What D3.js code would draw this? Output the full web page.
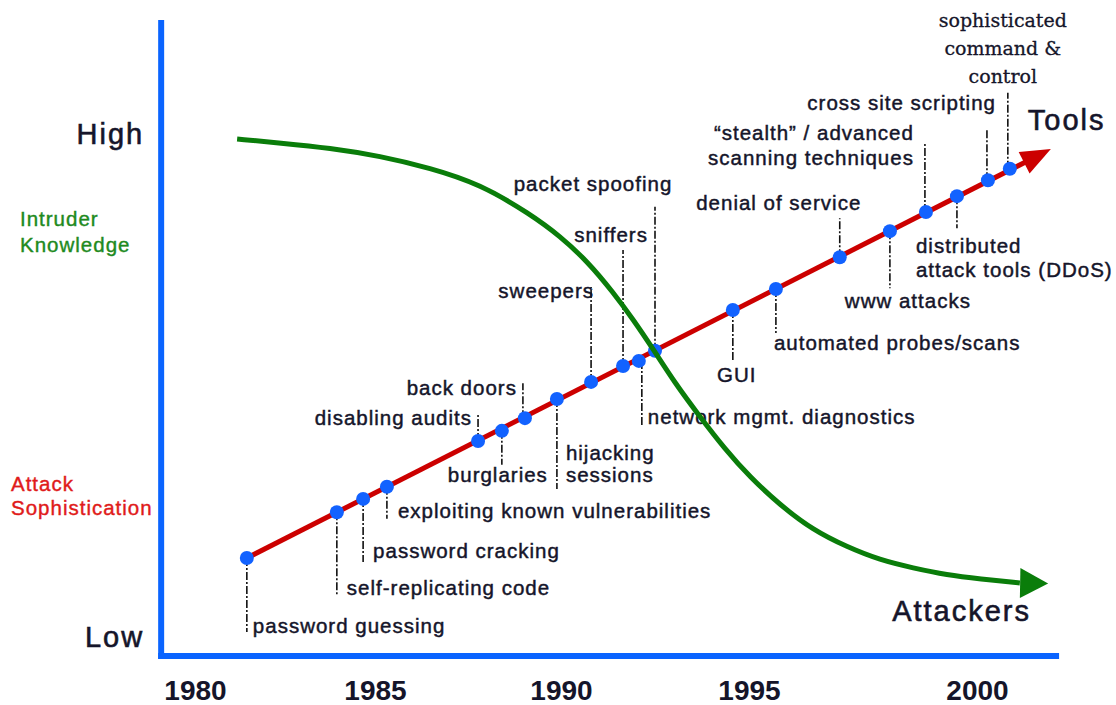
<!DOCTYPE html>
<html>
<head>
<meta charset="utf-8">
<script src="https://cdn.jsdelivr.net/npm/d3@7/dist/d3.min.js"></script>
<style>
  html, body { margin: 0; padding: 0; background: #fff; }
  svg { display: block; }
  text { font-family: "Liberation Sans", Arial, sans-serif; }
</style>
</head>
<body>
<svg id="chart" width="1116" height="705"></svg>
<script>
// ---------------- DATA ----------------
const tickYears = [1980, 1985, 1990, 1995, 2000];
const levelTickValues = [3, 82];
const levelTickLabels = ["Low", "High"];

// Attack sophistication (tools) timeline
const toolNames = [
  ["password guessing"],
  ["self-replicating code"],
  ["password cracking"],
  ["exploiting known vulnerabilities"],
  ["disabling audits"],
  ["burglaries"],
  ["back doors"],
  ["hijacking", "sessions"],
  ["sweepers"],
  ["sniffers"],
  ["network mgmt. diagnostics"],
  ["packet spoofing"],
  ["GUI"],
  ["automated probes/scans"],
  ["denial of service"],
  ["www attacks"],
  ["\u201cstealth\u201d / advanced", "scanning techniques"],
  ["distributed", "attack tools (DDoS)"],
  ["cross site scripting"],
  ["sophisticated", "command &", "control"]
];
const toolYears = [1981.44, 1983.94, 1984.67, 1985.32, 1987.77, 1988.41, 1989.03, 1989.89,
                   1990.80, 1991.65, 1992.07, 1992.50, 1994.57, 1995.59, 1996.99, 1998.09,
                   1998.88, 1999.56, 2000.24, 2000.72];
const toolLevels = [15.4, 22.6, 24.7, 26.6, 33.8, 35.4, 37.4, 40.4,
                    43.1, 45.6, 46.4, 48.0, 54.4, 57.7, 62.7, 66.8,
                    69.8, 72.3, 74.8, 76.6];
const toolsTip = { year: 2001.62, level: 79.7 };

// Intruder knowledge curve
const knowledgeYears = [1981.17, 1982.36, 1983.75, 1985.13, 1986.48, 1987.82, 1989.17, 1989.97,
                        1990.72, 1991.38, 1991.91, 1992.45, 1993.03, 1993.70, 1994.36, 1995.02,
                        1995.68, 1996.40, 1997.15, 1997.87, 1998.60, 1999.34, 2000.07, 2000.94];
const knowledgeLevels = [81.29, 80.66, 79.87, 78.62, 76.73, 74.21, 69.50, 66.04,
                         61.95, 57.23, 52.99, 48.27, 42.92, 37.58, 32.55, 28.14,
                         23.74, 19.81, 17.14, 15.09, 13.84, 12.74, 12.11, 11.48];
const knowledgeTip = { year: 2001.56, level: 11.4 };

const axisYearMin = 1979.06, axisYearMax = 2001.8;

// ---------------- LAYOUT (label placement, px offsets from each dot) ----------------
// lead: leader end dy; lx: leader x offset; tx, ty: text offset; a: anchor; lh: line height
const labelLayout = [
  { lead: 74,   tx: 6,   ty: 75,   a: "start" },
  { lead: 83,   tx: 10,  ty: 83,   a: "start" },
  { lead: 63,   tx: 10,  ty: 59,   a: "start" },
  { lead: 32,   tx: 11,  ty: 31,   a: "start" },
  { lead: -27,  tx: -6,  ty: -16,  a: "end" },
  { lead: 34,   tx: -4,  ty: 51,   a: "middle" },
  { lead: -35,  lx: -2, tx: -8, ty: -23, a: "end" },
  { lead: 90,   tx: 9,   ty: 61,   a: "start", lh: 22 },
  { lead: -95,  tx: 3,   ty: -84,  a: "end" },
  { lead: -116, tx: -12, ty: -124, a: "middle" },
  { lead: 64,   lx: 3, tx: 9, ty: 63, a: "start" },
  { lead: -144, tx: -62, ty: -160, a: "middle" },
  { lead: 50,   tx: 4,   ty: 72,   a: "middle" },
  { lead: 44,   tx: -2,  ty: 61,   a: "start" },
  { lead: -39,  tx: -61, ty: -47,  a: "middle" },
  { lead: 57,   tx: 18,  ty: 77,   a: "middle" },
  { lead: -69,  lx: -1, tx: -12, ty: -72, a: "end", lh: 25 },
  { lead: 32,   tx: -41, ty: 57,   a: "start", lh: 24 },
  { lead: -52,  lx: -1, tx: 8, ty: -70, a: "end" },
  { lead: -76,  lx: -2, tx: -7, ty: -142, a: "middle", lh: 28, serif: true }
];

// ---------------- DRAW ----------------
const svg = d3.select("#chart");

const x = d3.scaleLinear().domain(tickYears).range([195, 375, 561, 749, 977]);
const y = d3.scaleLinear().domain([0, 100]).range([656, 20]);

const BLUE = "#0a64ff", RED = "#cc0000", GREEN = "#0a7d0a", DOT = "#1262ff", INK = "#15152a";

function thicken(sel, color, w) {
  sel.attr("stroke", color).attr("stroke-width", w).attr("paint-order", "stroke");
}

// axes
svg.append("line")
  .attr("x1", x(axisYearMin)).attr("x2", x(axisYearMin))
  .attr("y1", y(100)).attr("y2", y(0) + 3)
  .attr("stroke", BLUE).attr("stroke-width", 6);
svg.append("line")
  .attr("x1", x(axisYearMin) - 3).attr("x2", x(axisYearMax))
  .attr("y1", y(0)).attr("y2", y(0))
  .attr("stroke", BLUE).attr("stroke-width", 6);

const xAxis = svg.append("g")
  .attr("transform", `translate(0,${y(0)})`)
  .call(d3.axisBottom(x).tickValues(tickYears).tickFormat(d3.format("d")).tickSize(0));
xAxis.select(".domain").remove();
xAxis.selectAll("text")
  .attr("y", 44).attr("dy", 0)
  .attr("fill", INK)
  .style("font-family", "'Liberation Sans', Arial, sans-serif")
  .style("font-size", "28px").style("font-weight", "bold");

const yAxis = svg.append("g")
  .attr("transform", `translate(${x(axisYearMin)},0)`)
  .call(d3.axisLeft(y).tickValues(levelTickValues)
        .tickFormat((d, i) => levelTickLabels[i]).tickSize(0).tickPadding(17));
yAxis.select(".domain").remove();
yAxis.selectAll("text")
  .attr("fill", INK)
  .style("font-family", "'Liberation Sans', Arial, sans-serif")
  .style("font-size", "29px").style("letter-spacing", "2px")
  .call(thicken, INK, 0.6);

// series titles
const titleG = svg.append("g").style("font-size", "20.5px").style("letter-spacing", "1px");
titleG.append("text").attr("x", 20).attr("y", 226).attr("fill", "#1e8a1e").text("Intruder").call(thicken, "#1e8a1e", 0.4);
titleG.append("text").attr("x", 20).attr("y", 252).attr("fill", "#1e8a1e").text("Knowledge").call(thicken, "#1e8a1e", 0.4);
titleG.append("text").attr("x", 11).attr("y", 491).attr("fill", "#e01a1a").text("Attack").call(thicken, "#e01a1a", 0.4);
titleG.append("text").attr("x", 11).attr("y", 515).attr("fill", "#e01a1a").text("Sophistication").call(thicken, "#e01a1a", 0.4);

// tools data
const tools = toolNames.map((n, i) => ({ lines: n, year: toolYears[i], level: toolLevels[i], lay: labelLayout[i] }));

// leaders
const leaders = svg.append("g");
tools.forEach(t => {
  const px = x(t.year) + (t.lay.lx || 0), py = y(t.level);
  leaders.append("line")
    .attr("x1", px).attr("x2", px)
    .attr("y1", py).attr("y2", py + t.lay.lead)
    .attr("stroke", "#111").attr("stroke-width", 1.6)
    .attr("stroke-dasharray", "8,2,2,2");
});

// labels
const labels = svg.append("g");
tools.forEach(t => {
  const px = x(t.year), py = y(t.level), L = t.lay;
  const txt = labels.append("text")
    .attr("x", px + L.tx).attr("y", py + L.ty)
    .attr("text-anchor", L.a)
    .attr("fill", INK);
  if (L.serif) {
    txt.style("font-family", "'DejaVu Serif', 'Liberation Serif', serif")
       .style("font-size", "19px");
    thicken(txt, INK, 0.3);
  } else {
    txt.style("font-size", "20.5px").style("letter-spacing", "1px");
    thicken(txt, INK, 0.45);
  }
  t.lines.forEach((s, k) => {
    txt.append("tspan").attr("x", px + L.tx).attr("dy", k === 0 ? 0 : (L.lh || 22)).text(s);
  });
});

// arrow head helper
function arrowHead(fromPt, tipPt, len, halfW, color) {
  const dx = tipPt[0] - fromPt[0], dy = tipPt[1] - fromPt[1];
  const d = Math.hypot(dx, dy), ux = dx / d, uy = dy / d;
  const bx = tipPt[0] - ux * len, by = tipPt[1] - uy * len;
  const pts = [[tipPt[0], tipPt[1]], [bx - uy * halfW, by + ux * halfW], [bx + uy * halfW, by - ux * halfW]];
  svg.append("polygon").attr("points", pts.map(p => p.join(",")).join(" ")).attr("fill", color);
  return [bx, by];
}

// red tools line
const p0 = [x(tools[0].year), y(tools[0].level)];
const pTip = [x(toolsTip.year), y(toolsTip.level)];
const redLayer = svg.append("g");
const base = arrowHead(p0, pTip, 30, 12, RED);
redLayer.append("line")
  .attr("x1", p0[0]).attr("y1", p0[1]).attr("x2", base[0] + 2).attr("y2", base[1] - 1)
  .attr("stroke", RED).attr("stroke-width", 5);

// dots
svg.append("g").selectAll("circle").data(tools).join("circle")
  .attr("cx", d => x(d.year)).attr("cy", d => y(d.level)).attr("r", 7)
  .attr("fill", DOT);

// Tools label
svg.append("text").attr("x", pTip[0] - 23).attr("y", pTip[1] - 19)
  .attr("fill", INK).style("font-size", "29px").style("letter-spacing", "2px").text("Tools")
  .call(thicken, INK, 0.6);

// green knowledge curve
const kData = knowledgeYears.map((yr, i) => [x(yr), y(knowledgeLevels[i])]);
svg.append("path")
  .attr("d", d3.line().curve(d3.curveBasis)(kData))
  .attr("fill", "none").attr("stroke", GREEN).attr("stroke-width", 5);
const kTip = [x(knowledgeTip.year), y(knowledgeTip.level)];
arrowHead(kData[kData.length - 1], kTip, 28, 15, GREEN);

svg.append("text").attr("x", kTip[0] - 156).attr("y", kTip[1] + 38)
  .attr("fill", INK).style("font-size", "29px").style("letter-spacing", "2px").text("Attackers")
  .call(thicken, INK, 0.6);
</script>
</body>
</html>
